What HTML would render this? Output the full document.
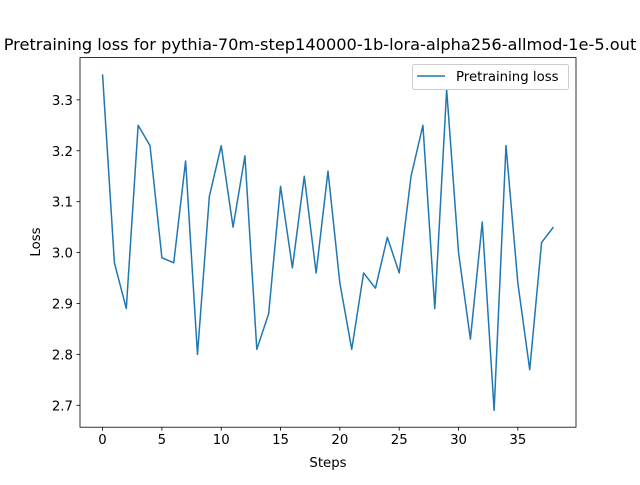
<!DOCTYPE html>
<html><head><meta charset="utf-8"><style>
html,body{margin:0;padding:0;background:#fff;}
svg text{font-family:"DejaVu Sans","Liberation Sans",sans-serif;fill:#000;}
</style></head><body>
<svg id="chart" width="640" height="480" xmlns="http://www.w3.org/2000/svg">
<rect width="640" height="480" fill="#fff"/>
<text x="320" y="50" font-size="16.2" text-anchor="middle">Pretraining loss for pythia-70m-step140000-1b-lora-alpha256-allmod-1e-5.out</text>
<g id="ticks"></g>
<path id="line" fill="none" stroke="#1f77b4" stroke-width="1.5" stroke-linejoin="round"/>
<rect x="80" y="57.6" width="496" height="369.6" fill="none" stroke="#000" stroke-width="0.8"/>
<text x="328" y="467" font-size="13.3" text-anchor="middle">Steps</text>
<text x="0" y="0" font-size="13.3" text-anchor="middle" transform="translate(40,242) rotate(-90)">Loss</text>
<g>
<rect x="412.5" y="64.5" width="156" height="25" rx="2" fill="#fff" fill-opacity="0.8" stroke="#ccc"/>
<line x1="417" y1="76" x2="445" y2="76" stroke="#1f77b4" stroke-width="1.5"/>
<text x="456" y="81" font-size="13.3">Pretraining loss</text>
</g>
</svg>
<script>
const steps = [0,1,2,3,4,5,6,7,8,9,10,11,12,13,14,15,16,17,18,19,20,21,22,23,24,25,26,27,28,29,30,31,32,33,34,35,36,37,38];
const loss = [3.35,2.98,2.89,3.25,3.21,2.99,2.98,3.18,2.80,3.11,3.21,3.05,3.19,2.81,2.88,3.13,2.97,3.15,2.96,3.16,2.94,2.81,2.96,2.93,3.03,2.96,3.15,3.25,2.89,3.32,3.00,2.83,3.06,2.69,3.21,2.94,2.77,3.02,3.05];
const xTicks = [0,5,10,15,20,25,30,35];
const yTicks = [2.7,2.8,2.9,3.0,3.1,3.2,3.3];
const L=80,R=576,T=57.6,B=427.2;
const xmin=Math.min(...steps),xmax=Math.max(...steps),xm=(xmax-xmin)*0.05;
const ymin=Math.min(...loss),ymax=Math.max(...loss),ym=(ymax-ymin)*0.05;
const X=v=>L+(v-(xmin-xm))/((xmax+xm)-(xmin-xm))*(R-L);
const Y=v=>B-(v-(ymin-ym))/((ymax+ym)-(ymin-ym))*(B-T);
const NS="http://www.w3.org/2000/svg";
document.getElementById('line').setAttribute('d',steps.map((s,i)=>(i?'L':'M')+X(s).toFixed(2)+','+Y(loss[i]).toFixed(2)).join(''));
const g=document.getElementById('ticks');
function mk(tag,attrs){const e=document.createElementNS(NS,tag);for(const k in attrs)e.setAttribute(k,attrs[k]);g.appendChild(e);return e;}
xTicks.forEach(t=>{
  const l=mk('line',{x1:X(t),x2:X(t),y1:B,y2:B+3.5,stroke:'#000','stroke-width':0.8});
  
  
  const tx=mk('text',{x:X(t),y:B+17,'font-size':13.3,'text-anchor':'middle'});
  tx.textContent=t;
  
  
});
yTicks.forEach(t=>{
  const l=mk('line',{x1:L-3.5,x2:L,y1:Y(t),y2:Y(t),stroke:'#000','stroke-width':0.8});
  
  
  const tx=mk('text',{x:L-7,y:Y(t)+5,'font-size':13.3,'text-anchor':'end'});
  tx.textContent=t.toFixed(1);
  
  
});
</script>
</body></html>
